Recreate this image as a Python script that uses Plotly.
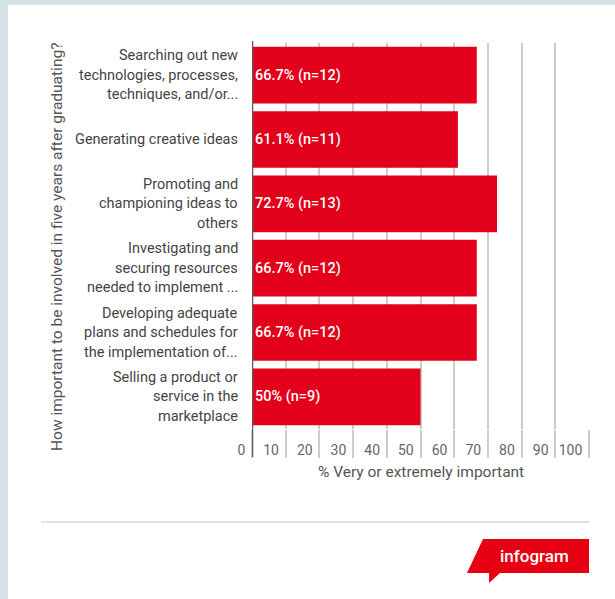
import plotly.graph_objects as go

# Survey items (line breaks mark how the labels wrap)
categories = [
    "Searching out new<br>technologies, processes,<br>techniques, and/or...",
    "Generating creative ideas",
    "Promoting and<br>championing ideas to<br>others",
    "Investigating and<br>securing resources<br>needed to implement ...",
    "Developing adequate<br>plans and schedules for<br>the implementation of...",
    "Selling a product or<br>service in the<br>marketplace",
]
pct_important = [66.7, 61.1, 72.7, 66.7, 66.7, 50]
respondents = [12, 11, 13, 12, 12, 9]
x_ticks = [0, 10, 20, 30, 40, 50, 60, 70, 80, 90, 100]

x_title = "% Very or extremely important"
y_title = "How important to be involved in five years after graduating?"
brand = "infogram"

RED = "#e2001a"
GRID = "#cccccc"
W, H = 615, 599
PL, PR, PT, PB = 252, 589, 43, 429


def px(x):
    return (x - PL) / (PR - PL)


def py(y):
    return (PB - y) / (PB - PT)


bar_text = [f"{v:g}% (n={n})" for v, n in zip(pct_important, respondents)]

fig = go.Figure(
    go.Bar(
        x=pct_important,
        y=categories,
        orientation="h",
        marker=dict(color=RED, line=dict(width=0)),
        text=bar_text,
        textposition="inside",
        insidetextanchor="start",
        textfont=dict(color="white", size=14.5, family="Roboto", weight=500),
        hoverinfo="skip",
    )
)

annotations = []
# wrapped category labels, one text line at a time for even line spacing
for cat in categories:
    lines = cat.split("<br>")
    k = len(lines)
    for j, line in enumerate(lines):
        annotations.append(dict(
            xref="paper", yref="y", x=px(240), y=cat,
            xanchor="right", yanchor="middle",
            yshift=((k - 1) / 2 - j) * 19.5,
            text=line, showarrow=False,
            font=dict(size=14.5, color="#444444", family="Roboto"),
        ))

annotations.append(dict(
    xref="paper", yref="paper", x=px(57), y=py(247),
    text=y_title, textangle=-90, showarrow=False,
    xanchor="center", yanchor="middle",
    font=dict(size=15.5, color="#555555", family="Roboto"),
))
annotations.append(dict(
    xref="paper", yref="paper", x=px(421), y=py(472),
    text=x_title, showarrow=False,
    xanchor="center", yanchor="middle",
    font=dict(size=15.5, color="#555555", family="Roboto"),
))
annotations.append(dict(
    xref="paper", yref="paper", x=px(534), y=py(556),
    text=brand, showarrow=False,
    xanchor="center", yanchor="middle",
    font=dict(size=17, color="white", family="Roboto", weight=500),
))


def pxy(x, y):
    return f"{px(x):.5f},{py(y):.5f}"


logo_pts = [(483, 539), (589, 539), (589, 573), (500, 573), (489, 583), (489, 573), (467, 573)]
logo_path = "M " + " L ".join(pxy(x, y) for x, y in logo_pts) + " Z"

shapes = [
    # page backdrop strips
    dict(type="rect", xref="paper", yref="paper", x0=px(0), x1=px(8), y0=py(0), y1=py(W),
         fillcolor="#d5e2e6", line=dict(width=0), layer="above"),
    dict(type="rect", xref="paper", yref="paper", x0=px(0), x1=px(W), y0=py(0), y1=py(5),
         fillcolor="#d5e2e6", line=dict(width=0), layer="above"),
    # value axis baseline, running through the tick label band
    dict(type="line", xref="x", yref="paper", x0=0, x1=0, y0=py(41), y1=py(457),
         line=dict(color="#5a5a5a", width=2.5), layer="above"),
    # footer separator
    dict(type="line", xref="paper", yref="paper", x0=px(41), x1=px(589), y0=py(522), y1=py(522),
         line=dict(color="#e2e2e2", width=2)),
    # brand badge
    dict(type="path", xref="paper", yref="paper", path=logo_path,
         fillcolor="#e60012", line=dict(width=0)),
]

fig.update_layout(
    width=W, height=H,
    margin=dict(l=PL, r=W - PR, t=PT, b=H - PB, pad=0),
    paper_bgcolor="white", plot_bgcolor="white",
    showlegend=False, bargap=0.12,
    font=dict(family="Roboto"),
    xaxis=dict(
        range=[0, 100], tickvals=x_ticks, showgrid=True,
        gridcolor=GRID, gridwidth=1.5, zeroline=False, showline=False,
        ticks="outside", ticklen=28, tickcolor=GRID, tickwidth=1.5,
        ticklabelposition="outside left", ticklabelstandoff=8,
        ticklabelshift=-6,
        tickfont=dict(size=14, color="#666666", family="Roboto"),
        fixedrange=True,
    ),
    yaxis=dict(
        type="category", autorange="reversed", showticklabels=False,
        showgrid=False, zeroline=False, showline=False, ticks="",
        fixedrange=True,
    ),
    annotations=annotations,
    shapes=shapes,
)

fig.write_html("out.html", config={"displayModeBar": False})
